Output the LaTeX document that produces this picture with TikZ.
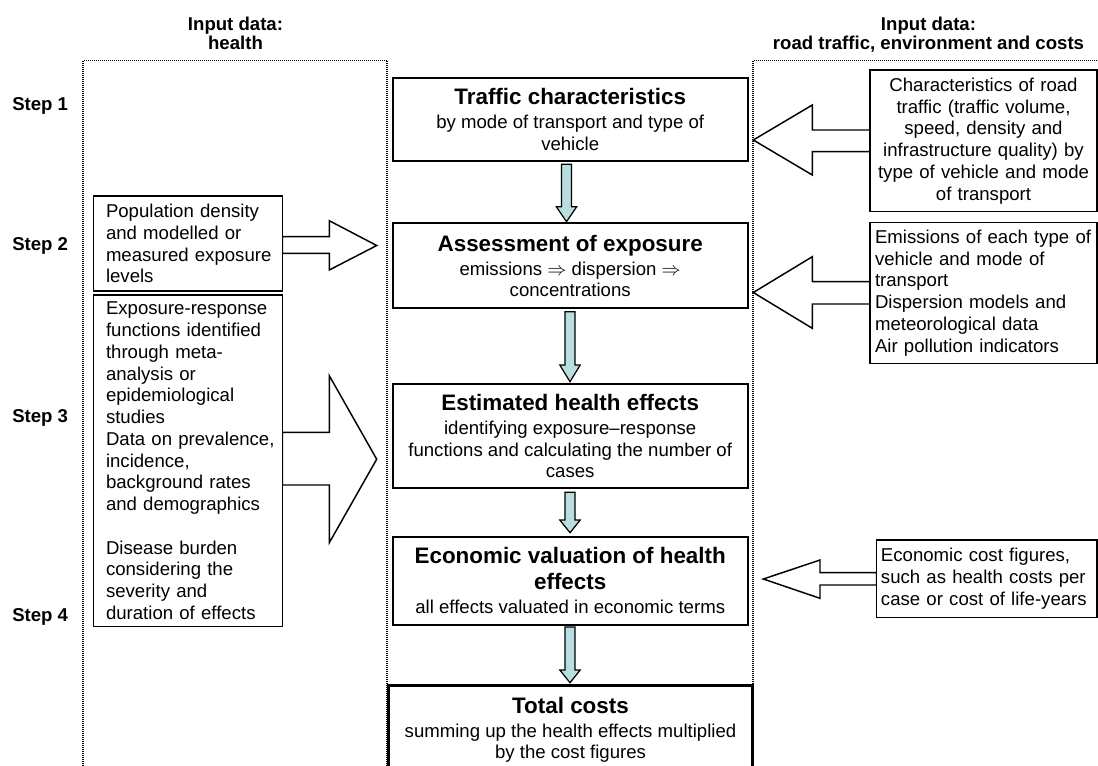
\documentclass[tikz,border=0pt]{standalone}
\usepackage{fontspec}
\setmainfont{Liberation Sans}
\usetikzlibrary{calc}
\definecolor{arrowfill}{HTML}{B8DEE0}
\newcommand\ttlf{\fontsize{16.8pt}{19.5pt}\selectfont\bfseries}
\newcommand\iboxfont{\fontsize{13.95pt}{16.3pt}\selectfont}
\newcommand\lb[1]{\mbox{#1}}
\newcommand\dnblk[4]{% xc, shaft top, head base, tip
  \draw[dnar] (#1-5,#2) -- (#1+5,#2) -- (#1+5,#3) -- (#1+10.2,#3) -- (#1,#4) -- (#1-10.2,#3) -- (#1-5,#3) -- cycle;}
\tikzset{
  every node/.style={inner sep=0pt},
  cbox/.style={draw, line width=1.5pt, align=center, font=\fontsize{13.95pt}{16pt}\selectfont, minimum width=266.25pt},
  ibox/.style={draw, line width=1.1pt, font=\iboxfont},
  blk/.style={draw, fill=white, line width=1.1pt, line join=miter},
  dnar/.style={draw, fill=arrowfill, line width=0.9pt, line join=miter},
  hdr/.style={font=\fontsize{13.95pt}{14.25pt}\selectfont\bfseries, align=center},
  steplbl/.style={font=\fontsize{13.95pt}{16pt}\selectfont\bfseries, anchor=base west},
  dotbox/.style={line width=1pt, dash pattern=on 0.75pt off 0.75pt},
}
\begin{document}
\begin{tikzpicture}[x=0.75pt,y=-0.75pt]
\useasboundingbox (0,0) rectangle (1098,765);
\clip (0,0) rectangle (1098,765);
\fill[white] (0,0) rectangle (1098,765);

% headers
\node[hdr, anchor=north] (hL) at (235.5,16.5) {Input data:\\health};
\node[hdr, anchor=north] (hR) at (928.5,16.5) {Input data:\\road traffic, environment and costs};

% step labels
\node[steplbl] (s1) at (12,110) {Step 1};
\node[steplbl] (s2) at (12,250) {Step 2};
\node[steplbl] (s3) at (12,422.3) {Step 3};
\node[steplbl] (s4) at (12,621) {Step 4};

% dotted frames
\draw[dotbox] (83,780) -- (83,60.5) -- (387,60.5) -- (387,780);
\draw[dotbox] (753,780) -- (753,60.5) -- (1110,60.5);

% block arrows (left)
\draw[blk] (282.3,236.7) -- (329.3,236.7) -- (329.3,220.7) -- (376.7,245.5) -- (329.3,270) -- (329.3,253.3) -- (282.3,253.3) -- cycle;
\draw[blk] (282.3,432.3) -- (329.3,432.3) -- (329.3,375.7) -- (376.7,459.2) -- (329.3,542.7) -- (329.3,485) -- (282.3,485) -- cycle;
% block arrows (right)
\draw[blk] (870,130) -- (812.3,130) -- (812.3,105) -- (753.3,140) -- (812.3,175) -- (812.3,151.7) -- (870,151.7) -- cycle;
\draw[blk] (870,281.7) -- (812.3,281.7) -- (812.3,256.7) -- (753.3,292.5) -- (812.3,328.3) -- (812.3,304) -- (870,304) -- cycle;
\draw[blk] (876.7,572.7) -- (820,572.7) -- (820,560) -- (763.3,579) -- (820,598.3) -- (820,585) -- (876.7,585) -- cycle;

% left input boxes
\node[ibox, fill=white, text width=122.7pt, inner xsep=9.5pt, minimum height=71.25pt, align=left] (L1) at (187.8,243.5)
  {\lb{Population density}\\\lb{and modelled or}\\\lb{measured exposure}\\\lb{levels}};
\node[ibox, fill=white, text width=122.7pt, inner xsep=9.5pt, minimum height=248.8pt, align=left] (L2) at (187.8,460.8)
  {\lb{Exposure-response}\\\lb{functions identified}\\\lb{through meta-}\\\lb{analysis or}\\\lb{epidemiological}\\\lb{studies}\\\lb{Data on prevalence,}\\\lb{incidence,}\\\lb{background rates}\\\lb{and demographics}\\[16.3pt]\lb{Disease burden}\\\lb{considering the}\\\lb{severity and}\\\lb{duration of effects}};

% right input boxes
\node[ibox, fill=white, text width=160.25pt, inner xsep=5pt, minimum height=106.3pt, align=center] (R1) at (983.5,140.85)
  {Characteristics of road\\traffic (traffic volume,\\speed, density and\\\lb{infrastructure quality) by}\\\lb{type of vehicle and mode}\\of transport};
\node[ibox, fill=white, text width=162.75pt, inner xsep=3.75pt, minimum height=105.5pt, align=left] (R2) at (983.5,293)
  {\lb{Emissions of each type of}\\\lb{vehicle and mode of}\\\lb{transport}\\\lb{Dispersion models and}\\\lb{meteorological data}\\\lb{Air pollution indicators}};
\node[ibox, fill=white, text width=158.8pt, inner xsep=3.2pt, minimum height=58pt, align=left] (R3) at (986.85,578.65)
  {\lb{Economic cost figures,}\\\lb{such as health costs per}\\\lb{case or cost of life-years}};

% central boxes
\node[cbox, minimum height=61.8pt] (B1) at (570.2,119.5)
  {{\ttlf Traffic characteristics}\\[2pt]by mode of transport and type of\\vehicle};
\node[cbox, minimum height=63.75pt] (B2) at (570.2,265.8)
  {{\ttlf Assessment of exposure}\\[2pt]emissions $\Rightarrow$ dispersion $\Rightarrow$\\concentrations};
\node[cbox, minimum height=78.2pt] (B3) at (570.2,436.2)
  {{\ttlf Estimated health effects}\\[2pt]identifying exposure–response\\functions and calculating the number of\\cases};
\node[cbox, minimum height=66.2pt] (B4) at (570.2,580.9)
  {{\ttlf Economic valuation of health}\\[3.5pt]{\ttlf effects}\\[2pt]all effects valuated in economic terms};
\node[cbox, line width=2.25pt, minimum width=273.3pt, minimum height=66.75pt] (B5) at (570.5,729.5)
  {{\ttlf Total costs}\\[2pt]summing up the health effects multiplied\\by the cost figures};

% down arrows
\dnblk{566.5}{164.3}{206.7}{221.7}
\dnblk{570}{311.7}{365}{381.7}
\dnblk{570}{492.3}{520}{532.7}
\dnblk{570}{627}{670}{682.7}
\end{tikzpicture}
\end{document}
